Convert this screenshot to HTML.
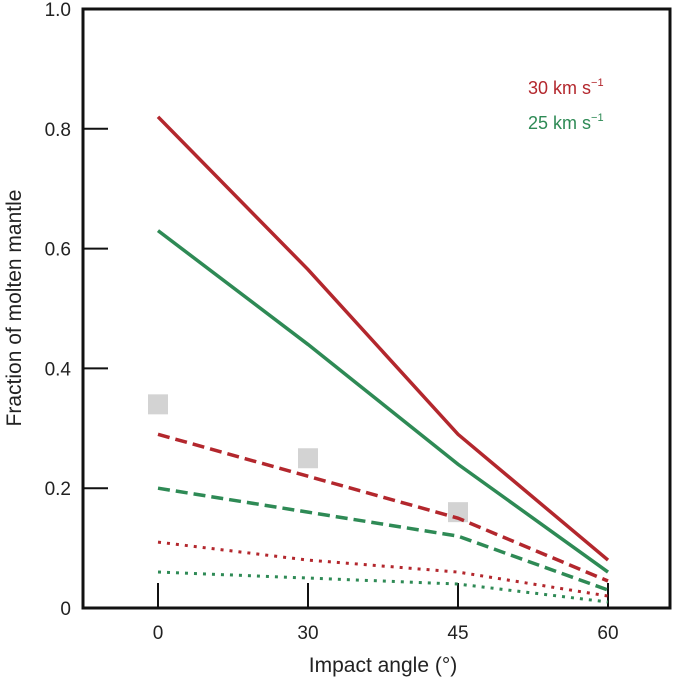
<!DOCTYPE html>
<html><head><meta charset="utf-8"><style>
body{margin:0;background:#fff}
text{font-family:"Liberation Sans",sans-serif;fill:#222}
</style></head><body>
<svg id="chart" width="685" height="682" viewBox="0 0 685 682" xmlns="http://www.w3.org/2000/svg">
</svg>
<script>
const categories=[0,30,45,60];
const red30Solid=[0.82,0.565,0.29,0.08];
const green25Solid=[0.63,0.44,0.24,0.06];
const red30Dashed=[0.29,0.22,0.15,0.045];
const green25Dashed=[0.20,0.16,0.12,0.03];
const red30Dotted=[0.11,0.08,0.06,0.02];
const green25Dotted=[0.06,0.05,0.04,0.01];
const squareValues=[0.34,0.25,0.16];
const yTicks=[0,0.2,0.4,0.6,0.8,1.0];
const yTickLabels=["0","0.2","0.4","0.6","0.8","1.0"];

const L=83,R=670,T=9,B=608;
const x=i=>158+i*150;
const y=v=>B-v*(B-T);
const svg=document.getElementById('chart');
const NS='http://www.w3.org/2000/svg';
function mk(tag,attrs){const e=document.createElementNS(NS,tag);for(const k in attrs)e.setAttribute(k,attrs[k]);svg.appendChild(e);return e;}

const frame=mk('rect',{x:L,y:T,width:R-L,height:B-T,fill:'none',stroke:'#111','stroke-width':3});



yTicks.forEach((v,i)=>{
  if(v>0&&v<1){const t=mk('line',{x1:L,x2:L+25,y1:y(v),y2:y(v),stroke:'#111','stroke-width':2});
  
  }
  const lb=mk('text',{x:L-12,y:y(v)+7,'text-anchor':'end','font-size':19});
  lb.textContent=yTickLabels[i];
  
  
});
categories.forEach((c,i)=>{
  const t=mk('line',{x1:x(i),x2:x(i),y1:B,y2:B-25,stroke:'#111','stroke-width':2});
  
  
  const lb=mk('text',{x:x(i),y:B+31,'text-anchor':'middle','font-size':19});
  lb.textContent=String(c);
  
  
});

squareValues.forEach((v,i)=>{
  const s=mk('rect',{x:x(i)-10,y:y(v)-10,width:20,height:20,fill:'#d3d3d3'});
  
  
});

const RED='#b3272d',GREEN='#2e8a55';
const series=[
 [red30Solid,RED,'',3.5,'red-solid-line'],
 [green25Solid,GREEN,'',3.5,'green-solid-line'],
 [red30Dashed,RED,'12 6',3.5,'red-dashed-line'],
 [green25Dashed,GREEN,'12 6',3.5,'green-dashed-line'],
 [red30Dotted,RED,'3 6',3,'red-dotted-line'],
 [green25Dotted,GREEN,'3 6',3,'green-dotted-line']
];
series.forEach(([vals,col,dash,w,name])=>{
  const p=mk('polyline',{points:vals.map((v,i)=>x(i)+','+y(v)).join(' '),fill:'none',stroke:col,'stroke-width':w,'stroke-dasharray':dash});
  
  
});

const l1=mk('text',{x:528,y:94,'font-size':18,style:'fill:'+RED});
l1.innerHTML='30 km s<tspan dy="-8" font-size="11">−1</tspan>';


const l2=mk('text',{x:528,y:129,'font-size':18,style:'fill:'+GREEN});
l2.innerHTML='25 km s<tspan dy="-8" font-size="11">−1</tspan>';



const xt=mk('text',{x:383,y:672,'text-anchor':'middle','font-size':21});
xt.textContent='Impact angle (°)';


const yt=mk('text',{x:0,y:0,'text-anchor':'middle','font-size':21,transform:'translate(21,308) rotate(-90)'});
yt.textContent='Fraction of molten mantle';


</script>
</body></html>
